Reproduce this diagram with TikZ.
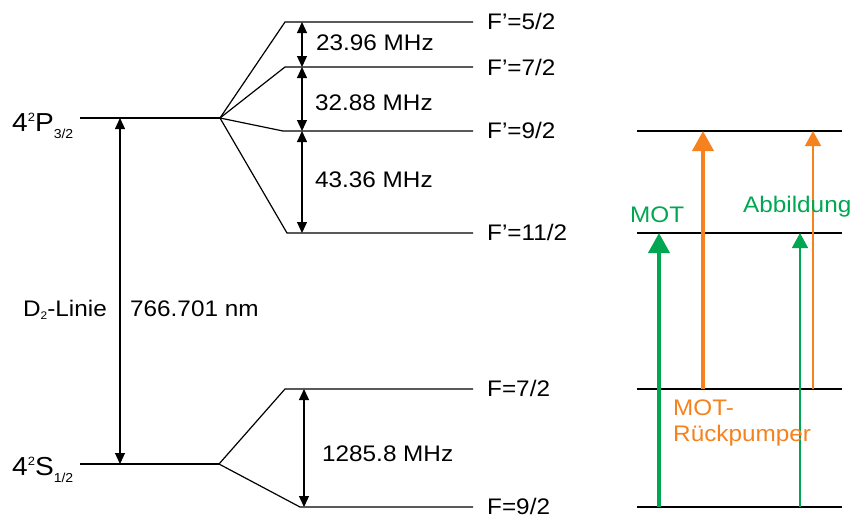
\documentclass[tikz,border=0pt]{standalone}
\usepackage{fontspec}
\setmainfont[FakeStretch=1.08]{Liberation Sans}
\usetikzlibrary{arrows.meta}
\definecolor{motgreen}{RGB}{0,166,81}
\definecolor{pumporange}{RGB}{245,130,31}
\newcommand{\hfsup}[1]{\raisebox{10pt}{\fontsize{12}{12}\selectfont #1}}
\newcommand{\hfsub}[2]{\raisebox{#1}{\fontsize{13}{13}\selectfont #2}}
\tikzset{
  level/.style={line width=1.2pt},
  sep/.style={{Triangle[width=10pt,length=11pt]}-{Triangle[width=10pt,length=11pt]}, line width=1.1pt},
  lbl/.style={font=\fontsize{22.5}{26}\selectfont, inner sep=0pt, anchor=base west},
  term/.style={font=\fontsize{26}{28}\selectfont, inner sep=0pt, anchor=base west},
  thickbeam/.style={-{Triangle[width=21pt,length=20pt]}, line width=4pt},
  thinbeam/.style={-{Triangle[width=16pt,length=15pt]}, line width=1.5pt}
}
\begin{document}
\begin{tikzpicture}[x=1pt,y=-1pt]
\useasboundingbox (0,0) rectangle (853,523);
% fine structure levels
\coordinate (P1) at (220,118);
\coordinate (S1) at (219,464);
\draw[level] (80,118) -- (P1);
\draw[level] (80,464) -- (S1);
\node[term] (termP) at (12,131) {4\hfsup{2}P\hfsub{-7pt}{3/2}};
\node[term] (termS) at (12,475) {4\hfsup{2}S\hfsub{-7pt}{1/2}};
% hyperfine splitting
\draw[level] (P1) -- (285,22) -- (473,22);
\draw[level] (P1) -- (285,67) -- (473,67);
\draw[level] (P1) -- (283,131) -- (473,131);
\draw[level] (P1) -- (287,233) -- (473,233);
\draw[level] (S1) -- (285,389) -- (473,389);
\draw[level] (S1) -- (300,507) -- (473,507);
\node[lbl] (fp5) at (487,29) {F’=5/2};
\node[lbl] (fp7) at (487,75) {F’=7/2};
\node[lbl] (fp9) at (487,138) {F’=9/2};
\node[lbl] (fp11) at (487,240) {F’=11/2};
\node[lbl] (f7) at (487,396) {F=7/2};
\node[lbl] (f9) at (487,514) {F=9/2};
% D2 line
\coordinate (dP) at (120,118);
\coordinate (dS) at (120,464);
\draw[sep] (dP) -- (dS);
\node[lbl] (dlinie) at (23,316) {D\hfsub{-3pt}{\fontsize{11}{11}\selectfont 2}-Linie};
\node[lbl] (lambda) at (130,316) {766.701 nm};
% splittings
\coordinate (h1) at (302,22);
\coordinate (h2) at (302,67);
\coordinate (h3) at (302,131);
\coordinate (h4) at (302,233);
\coordinate (g1) at (304,389);
\coordinate (g2) at (304,507);
\draw[sep] (h1) -- (h2);
\draw[sep] (h2) -- (h3);
\draw[sep] (h3) -- (h4);
\draw[sep] (g1) -- (g2);
\node[lbl] (d57) at (316,50) {23.96 MHz};
\node[lbl] (d79) at (315,110) {32.88 MHz};
\node[lbl] (d911) at (315,187) {43.36 MHz};
\node[lbl] (dground) at (322,461) {1285.8 MHz};
% laser transitions
\draw[level] (637,131) -- (842,131);
\draw[level] (637,233) -- (842,233);
\draw[level] (637,389) -- (842,389);
\draw[level] (637,507) -- (842,507);
\coordinate (motlo) at (659,507);
\coordinate (mothi) at (659,233);
\coordinate (rplo) at (703,389);
\coordinate (rphi) at (703,131);
\coordinate (ablo) at (800,507);
\coordinate (abhi) at (800,233);
\coordinate (arlo) at (813,389);
\coordinate (arhi) at (813,131);
\draw[thickbeam, motgreen] (motlo) -- (mothi);
\draw[thickbeam, pumporange] (rplo) -- (rphi);
\draw[thinbeam, motgreen] (ablo) -- (abhi);
\draw[thinbeam, pumporange] (arlo) -- (arhi);
\node[lbl, motgreen] (mot) at (630,222) {MOT};
\node[lbl, motgreen] (abb) at (743,212) {Abbildung};
\node[lbl, pumporange, anchor=north west, align=left] (rp) at (673,400) {MOT-\\Rückpumper};
\end{tikzpicture}
\end{document}
